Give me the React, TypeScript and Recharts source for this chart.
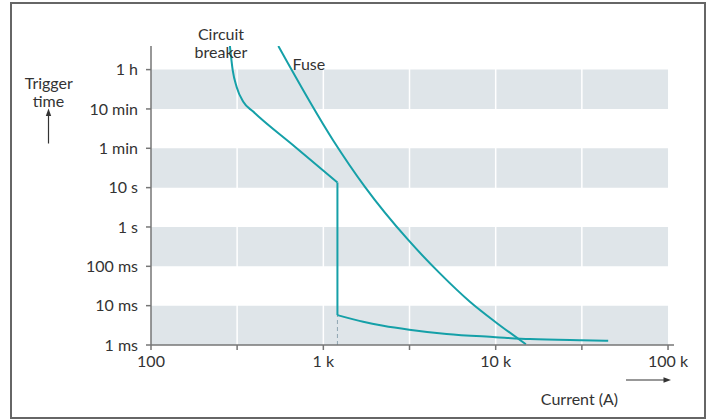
import { LineChart, Line, XAxis, YAxis, ReferenceArea, ReferenceLine } from "recharts";

// x: current in A (log axis), t: index of the time step (0 = 1 ms ... 7 = 1 h)
const xTicks = [100, 316, 1000, 3162, 10000, 31623, 100000];
const xTickLabels = ["100", "", "1 k", "", "10 k", "", "100 k"];
const yTicks = [0, 1, 2, 3, 4, 5, 6, 7];
const yTickLabels = ["1 ms", "10 ms", "100 ms", "1 s", "10 s", "1 min", "10 min", "1 h"];
const gridLines = [316, 1000, 3162, 10000, 31623];
const bands = [
  [0, 1],
  [2, 3],
  [4, 5],
  [6, 7],
];

// circuit breaker: thermal part, instant trip step, magnetic part
const breakerThermal = [
  { x: 287, t: 7.6 },
  { x: 298, t: 6.98 },
  { x: 314, t: 6.56 },
  { x: 343, t: 6.18 },
  { x: 390, t: 5.94 },
  { x: 684, t: 5.04 },
  { x: 1207, t: 4.13 },
];
const breakerStep = [
  { x: 1207, t: 4.13 },
  { x: 1207, t: 0.76 },
];
const breakerMagnetic = [
  { x: 1207, t: 0.76 },
  { x: 1703, t: 0.59 },
  { x: 2226, t: 0.49 },
  { x: 3150, t: 0.39 },
  { x: 5190, t: 0.28 },
  { x: 10000, t: 0.2 },
  { x: 15790, t: 0.15 },
  { x: 31490, t: 0.12 },
  { x: 44950, t: 0.11 },
];
const breakerDrop = [
  { x: 1207, t: 0 },
  { x: 1207, t: 0.76 },
];
const fuse = [
  { x: 548, t: 7.6 },
  { x: 1141, t: 5.2 },
  { x: 1743, t: 4.02 },
  { x: 3108, t: 2.67 },
  { x: 4746, t: 1.82 },
  { x: 7087, t: 1.1 },
  { x: 10000, t: 0.58 },
  { x: 14970, t: 0.02 },
];

const teal = "#15a0a8";
const band = "#dfe5e9";
const axis = "#767676";
const text = "#333";
const font = "Lato, 'Open Sans', sans-serif";

export default function App() {
  return (
    <div style={{ position: "absolute", left: 0, top: 0, width: 712, height: 419, fontFamily: font, background: "#fff" }}>
      <LineChart width={712} height={419} margin={{ top: 46, right: 38, bottom: 44, left: 0 }}>
        <XAxis
          dataKey="x"
          type="number"
          scale="log"
          domain={[100, 108300]}
          allowDataOverflow
          ticks={xTicks}
          interval={0}
          height={30}
          tickSize={5}
          tickMargin={6}
          tickFormatter={(v: number, i: number) => xTickLabels[i] ?? ""}
          axisLine={{ stroke: axis, strokeWidth: 1.5 }}
          tickLine={{ stroke: axis, strokeWidth: 1.5 }}
          tick={{ fill: text, fontSize: 16, fontFamily: font }}
        />
        <YAxis
          dataKey="t"
          type="number"
          domain={[0, 7.6]}
          allowDataOverflow
          ticks={yTicks}
          interval={0}
          width={151}
          tickSize={5}
          tickMargin={8}
          tickFormatter={(v: number) => yTickLabels[Math.round(v)] ?? ""}
          axisLine={{ stroke: axis, strokeWidth: 1.5 }}
          tickLine={{ stroke: axis, strokeWidth: 1.5 }}
          tick={{ fill: text, fontSize: 16, fontFamily: font }}
        />
        {bands.map(([a, b], i) => (
          <ReferenceArea key={`band-${i}`} x1={100} x2={100000} y1={a} y2={b} fill={band} fillOpacity={1} stroke="none" />
        ))}
        {gridLines.map((g) => (
          <ReferenceLine key={`grid-${g}`} x={g} stroke="#fff" strokeWidth={1.5} />
        ))}
        <Line data={breakerDrop} dataKey="t" type="linear" stroke="#8fa6b2" strokeWidth={1} strokeDasharray="4 3" dot={false} isAnimationActive={false} />
        <Line data={breakerThermal} dataKey="t" type="monotone" stroke={teal} strokeWidth={2} dot={false} isAnimationActive={false} />
        <Line data={breakerStep} dataKey="t" type="linear" stroke={teal} strokeWidth={2} dot={false} isAnimationActive={false} />
        <Line data={breakerMagnetic} dataKey="t" type="monotone" stroke={teal} strokeWidth={2} dot={false} isAnimationActive={false} />
        <Line data={fuse} dataKey="t" type="monotone" stroke={teal} strokeWidth={2} dot={false} isAnimationActive={false} />
      </LineChart>
      <svg width={712} height={419} style={{ position: "absolute", left: 0, top: 0, pointerEvents: "none" }}>
        <g fill={text} fontSize={16} fontFamily={font}>
          <text x={221} y={40} textAnchor="middle">Circuit</text>
          <text x={221} y={57.5} textAnchor="middle">breaker</text>
          <text x={292.5} y={70}>Fuse</text>
          <text x={48.8} y={89.3} textAnchor="middle">Trigger</text>
          <text x={48.5} y={106.7} textAnchor="middle">time</text>
          <text x={579.5} y={405} textAnchor="middle">Current (A)</text>
        </g>
        <line x1={48.5} y1={143.5} x2={48.5} y2={114} stroke="#333" strokeWidth={1.2} />
        <polygon points="48.5,108.5 45.8,116 51.2,116" fill="#333" />
        <line x1={626} y1={380} x2={665} y2={380} stroke="#333" strokeWidth={1.2} />
        <polygon points="671,380 663.5,377.3 663.5,382.7" fill="#333" />
      </svg>
      <div
        style={{
          position: "absolute",
          left: 10,
          top: 2,
          width: 696,
          height: 417,
          border: "2px solid #666",
          boxSizing: "border-box",
          pointerEvents: "none",
        }}
      />
    </div>
  );
}
